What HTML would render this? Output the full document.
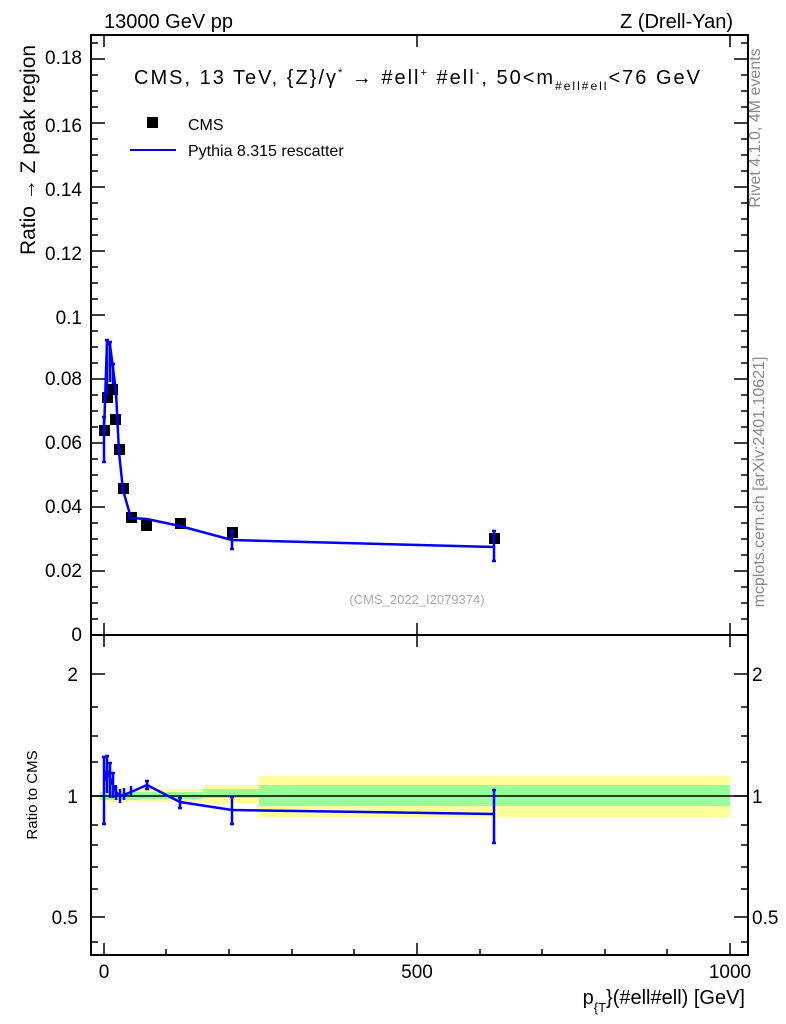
<!DOCTYPE html>
<html><head><style>body{margin:0;background:#fff}svg{display:block;font-family:"Liberation Sans",sans-serif}</style></head><body>
<svg width="786" height="1024" viewBox="0 0 786 1024" xmlns="http://www.w3.org/2000/svg">
<rect width="786" height="1024" fill="#fff"/>
<text x="104" y="28" font-size="20">13000 GeV pp</text>
<text x="733" y="28" font-size="20" text-anchor="end">Z (Drell-Yan)</text>
<rect x="91" y="35" width="657" height="600" fill="none" stroke="#000" stroke-width="2"/>
<text x="134" y="84" font-size="20" textLength="566" lengthAdjust="spacing">CMS, 13 TeV, {Z}/γ<tspan font-size="11" dy="-8">*</tspan><tspan dy="8">  →  #ell</tspan><tspan font-size="11" dy="-8">+</tspan><tspan dy="8"> #ell</tspan><tspan font-size="11" dy="-8">-</tspan><tspan dy="8">, 50&lt;m</tspan><tspan font-size="12" dy="6">#ell#ell</tspan><tspan dy="-6">&lt;76 GeV</tspan></text>
<rect x="147" y="117" width="11" height="11" fill="#000"/>
<text x="188" y="130" font-size="16">CMS</text>
<line x1="130" y1="150" x2="176" y2="150" stroke="#00f" stroke-width="2"/>
<text x="188" y="156" font-size="16">Pythia 8.315 rescatter</text>
<text x="417" y="604" font-size="13" fill="#aaa" text-anchor="middle">(CMS_2022_I2079374)</text>
<text transform="translate(35,150) rotate(-90)" font-size="21" text-anchor="middle">Ratio → Z peak region</text>
<text transform="translate(760,128) rotate(-90)" font-size="16" fill="#888" text-anchor="middle">Rivet 4.1.0,  4M events</text>
<text transform="translate(764,482) rotate(-90)" font-size="16" fill="#888" text-anchor="middle">mcplots.cern.ch [arXiv:2401.10621]</text>
<g font-size="19" text-anchor="end">
<text x="82" y="641">0</text><text x="82" y="577">0.02</text><text x="82" y="513">0.04</text><text x="82" y="449">0.06</text><text x="82" y="385">0.08</text><text x="82" y="324">0.1</text><text x="82" y="260">0.12</text><text x="82" y="196">0.14</text><text x="82" y="132">0.16</text><text x="82" y="64">0.18</text>
</g>
<g stroke="#000" stroke-width="1.5">
<path d="M91 635h14M91 571h14M91 507h14M91 443h14M91 379h14M91 315h14M91 251h14M91 187h14M91 123h14M91 59h14"/>
<path d="M748 635h-14M748 571h-14M748 507h-14M748 443h-14M748 379h-14M748 315h-14M748 251h-14M748 187h-14M748 123h-14M748 59h-14"/>
<path d="M91 619h7M91 603h7M91 587h7M91 555h7M91 539h7M91 523h7M91 491h7M91 475h7M91 459h7M91 427h7M91 411h7M91 395h7M91 363h7M91 347h7M91 331h7M91 299h7M91 283h7M91 267h7M91 235h7M91 219h7M91 203h7M91 171h7M91 155h7M91 139h7M91 107h7M91 91h7M91 75h7M91 43h7"/>
<path d="M748 619h-7M748 603h-7M748 587h-7M748 555h-7M748 539h-7M748 523h-7M748 491h-7M748 475h-7M748 459h-7M748 427h-7M748 411h-7M748 395h-7M748 363h-7M748 347h-7M748 331h-7M748 299h-7M748 283h-7M748 267h-7M748 235h-7M748 219h-7M748 203h-7M748 171h-7M748 155h-7M748 139h-7M748 107h-7M748 91h-7M748 75h-7M748 43h-7"/>
<path d="M104 635v-12M417 635v-12M730 635v-12M104 35v12M417 35v12M730 35v12"/>
</g>
<g fill="#000">
<rect x="99" y="425" width="11" height="11"/><rect x="102" y="392" width="11" height="11"/><rect x="107" y="384" width="11" height="11"/><rect x="110" y="414" width="11" height="11"/><rect x="114" y="444" width="11" height="11"/><rect x="118" y="483" width="11" height="11"/><rect x="126" y="512" width="11" height="11"/><rect x="141" y="520" width="11" height="11"/><rect x="175" y="518" width="11" height="11"/><rect x="227" y="527" width="11" height="11"/><rect x="489" y="533" width="11" height="11"/>
</g>
<g stroke="#00f" stroke-width="2.5" fill="none">
<polyline points="104,432 107,342 110,345 113,368 116,392 119,452 123,490 131,518 147,519 180,526 232,540 494,547"/>
<path d="M104,417v45M107,340v55M110,342v40M113,364v20M116,388v10M232,531v18M494,531v30"/>
<path d="M102,417h4M102,462h4M105,340h4M108,342h4M111,364h4M230,531h4M230,549h4M492,531h4M492,561h4"/>
</g>
<rect x="91" y="635" width="657" height="320" fill="none" stroke="#000" stroke-width="2"/>
<g>
<rect x="100" y="789" width="40" height="13" fill="#ffff99"/>
<rect x="140" y="789" width="63" height="13" fill="#ffff99"/>
<rect x="140" y="792" width="63" height="7" fill="#99ff99"/>
<rect x="203" y="785" width="56" height="18" fill="#ffff99"/>
<rect x="203" y="789" width="56" height="9" fill="#99ff99"/>
<rect x="259" y="776" width="471" height="41" fill="#ffff99"/>
<rect x="259" y="785" width="471" height="21" fill="#99ff99"/>
<rect x="100" y="792" width="40" height="8" fill="#99ff99"/>
</g>
<line x1="91" y1="796" x2="748" y2="796" stroke="#000" stroke-width="1.5"/>
<g stroke="#00f" stroke-width="2.5" fill="none">
<polyline points="104,782 107,770 110,778 113,785 116,792 120,796 124,795 131,792 147,785 180,802 232,810 494,814"/>
<path d="M104,757v67M107,756v37M110,763v35M113,773v25M116,785v15M120,789v14M124,788v12M131,786v10M147,781v8M180,798v10M232,797v27M494,790v53"/>
<path d="M102,757h4M102,824h4M105,756h4M108,763h4M111,773h4M178,798h4M178,808h4M230,797h4M230,824h4M492,790h4M492,843h4M145,781h4M145,789h4"/>
</g>
<g stroke="#000" stroke-width="1.5">
<path d="M91 674h14M91 796h14M91 917h14M748 674h-14M748 796h-14M748 917h-14"/>
<path d="M91 707h7M91 736h7M91 762h7M91 825h7M91 845h7M91 867h7M91 889h7M91 942h7M748 707h-7M748 736h-7M748 762h-7M748 825h-7M748 845h-7M748 867h-7M748 889h-7M748 942h-7"/>
<path d="M104 955v-12M417 955v-12M730 955v-12M104 635v12M417 635v12M730 635v12"/>
<path d="M166 955v-6M229 955v-6M292 955v-6M354 955v-6M480 955v-6M542 955v-6M605 955v-6M667 955v-6"/>
</g>
<g font-size="19">
<text x="78" y="681" text-anchor="end">2</text><text x="78" y="803" text-anchor="end">1</text><text x="78" y="924" text-anchor="end">0.5</text>
<text x="752" y="681">2</text><text x="752" y="803">1</text><text x="752" y="924">0.5</text>
<text x="104" y="978" text-anchor="middle">0</text><text x="417" y="978" text-anchor="middle">500</text><text x="730" y="978" text-anchor="middle">1000</text>
</g>
<text transform="translate(37,795) rotate(-90)" font-size="15" text-anchor="middle">Ratio to CMS</text>
<text x="745" y="1004" font-size="20" text-anchor="end">p<tspan font-size="13" dy="8">{T</tspan><tspan dy="-8">}(#ell#ell) [GeV]</tspan></text>
</svg>
</body></html>
